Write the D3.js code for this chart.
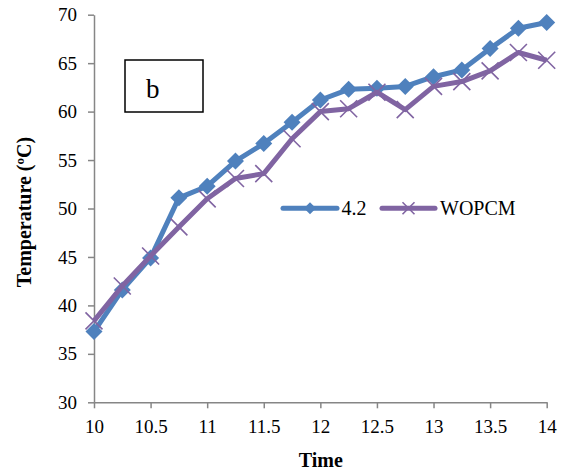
<!DOCTYPE html>
<html>
<head>
<meta charset="utf-8">
<script src="https://cdn.jsdelivr.net/npm/d3@7"></script>
<style>
  body { margin: 0; background: #fff; }
  text { font-family: "Liberation Serif", "Times New Roman", serif; fill: #000; }
</style>
</head>
<body>
<div id="chart"></div>
<script>
const width = 565;
const height = 470;

// données
const time = [10, 10.25, 10.5, 10.75, 11, 11.25, 11.5, 11.75, 12, 12.25, 12.5, 12.75, 13, 13.25, 13.5, 13.75, 14];
const pcm42 = [37.3, 41.6, 44.9, 51.1, 52.3, 54.9, 56.7, 58.9, 61.2, 62.3, 62.4, 62.6, 63.6, 64.3, 66.5, 68.6, 69.2];
const wopcm = [38.4, 42.0, 45.1, 48.1, 51.0, 53.1, 53.6, 57.2, 60.0, 60.3, 62.0, 60.2, 62.6, 63.1, 64.2, 66.1, 65.3];
const xTicks = [10, 10.5, 11, 11.5, 12, 12.5, 13, 13.5, 14];
const yTicks = [30, 35, 40, 45, 50, 55, 60, 65, 70];
const seriesNames = ["4.2", "WOPCM"];

const blue = "#4f81bd";
const purple = "#8064a2";
const axisColor = "#868686";

const x = d3.scaleLinear().domain([10, 14]).range([94, 546.7]);
const y = d3.scaleLinear().domain([30, 70]).range([402.3, 14.7]);

const svg = d3.select("#chart")
    .append("svg")
    .attr("width", width)
    .attr("height", height);

// axes
const xAxis = svg.append("g")
    .attr("transform", `translate(0,${y(30)})`)
    .call(d3.axisBottom(x).tickValues(xTicks).tickFormat(d3.format("")).tickSize(6).tickPadding(11.5).tickSizeOuter(0));
const yAxis = svg.append("g")
    .attr("transform", `translate(${x(10)},0)`)
    .call(d3.axisLeft(y).tickValues(yTicks).tickSize(6).tickPadding(11).tickSizeOuter(0));

[xAxis, yAxis].forEach(g => {
  g.select(".domain").attr("stroke", axisColor).attr("stroke-width", 1.5);
  g.selectAll(".tick line").attr("stroke", axisColor).attr("stroke-width", 1.5);
  g.selectAll(".tick text").attr("font-size", 19).attr("font-family", "Liberation Serif").attr("fill", "#000");
});

// titres
svg.append("text")
    .attr("x", 320.8)
    .attr("y", 467)
    .attr("text-anchor", "middle")
    .attr("font-size", 20)
    .attr("font-weight", "bold")
    .text("Time");

svg.append("text")
    .attr("transform", "rotate(-90)")
    .attr("x", -212)
    .attr("y", 30.5)
    .attr("text-anchor", "middle")
    .attr("font-size", 20)
    .attr("font-weight", "bold")
    .text("Temperature (ºC)");

// boîte "b"
svg.append("rect")
    .attr("x", 125).attr("y", 60)
    .attr("width", 78).attr("height", 52)
    .attr("fill", "#fff")
    .attr("stroke", "#000")
    .attr("stroke-width", 1.5);
svg.append("text")
    .attr("x", 146).attr("y", 98)
    .attr("font-size", 27)
    .text("b");

const line = d3.line()
    .x((d, i) => x(time[i]))
    .y(d => y(d));

function diamond(g, cx, cy, r) {
  g.append("path")
      .attr("d", `M${cx},${cy - r}L${cx + r},${cy}L${cx},${cy + r}L${cx - r},${cy}Z`)
      .attr("fill", blue);
}
function cross(g, cx, cy, r) {
  g.append("path")
      .attr("d", `M${cx - r},${cy - r}L${cx + r},${cy + r}M${cx - r},${cy + r}L${cx + r},${cy - r}`)
      .attr("stroke", purple)
      .attr("stroke-width", 1.6)
      .attr("fill", "none");
}

// série 4.2
const g1 = svg.append("g");
g1.append("path")
    .datum(pcm42)
    .attr("d", line)
    .attr("fill", "none")
    .attr("stroke", blue)
    .attr("stroke-width", 5)
    .attr("stroke-linejoin", "round");
pcm42.forEach((v, i) => diamond(g1, x(time[i]), y(v), 8.5));

// série WOPCM
const g2 = svg.append("g");
g2.append("path")
    .datum(wopcm)
    .attr("d", line)
    .attr("fill", "none")
    .attr("stroke", purple)
    .attr("stroke-width", 5)
    .attr("stroke-linejoin", "round");
wopcm.forEach((v, i) => cross(g2, x(time[i]), y(v), 8.5));

// légende
const legend = svg.append("g");
const ly = 208.3;
legend.append("line").attr("x1", 283).attr("x2", 337).attr("y1", ly).attr("y2", ly)
    .attr("stroke", blue).attr("stroke-width", 5).attr("stroke-linecap", "round");
diamond(legend, 310, ly, 6);
legend.append("text").attr("x", 341.5).attr("y", ly + 7).attr("font-size", 20).text(seriesNames[0]);
legend.append("line").attr("x1", 382).attr("x2", 435).attr("y1", ly).attr("y2", ly)
    .attr("stroke", purple).attr("stroke-width", 5).attr("stroke-linecap", "round");
cross(legend, 408.5, ly, 6);
legend.append("text").attr("x", 440).attr("y", ly + 7).attr("font-size", 20).text(seriesNames[1]);
</script>
</body>
</html>
